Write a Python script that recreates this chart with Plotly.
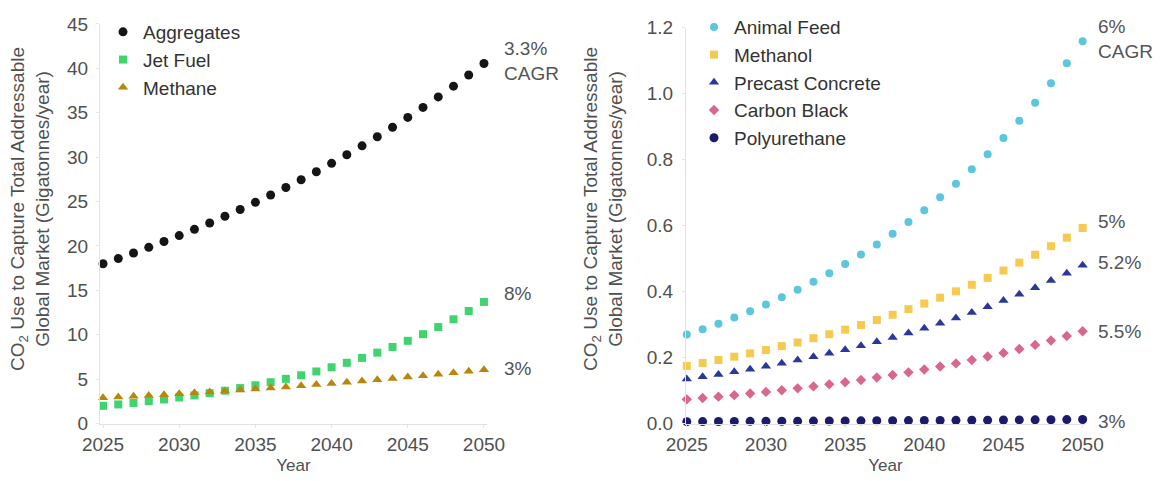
import plotly.graph_objects as go

years = list(range(2025, 2051))

aggregates = [18.00, 18.59, 19.21, 19.84, 20.50, 21.17, 21.87, 22.59, 23.34, 24.11, 24.91, 25.73, 26.58,
              27.46, 28.36, 29.30, 30.27, 31.27, 32.30, 33.36, 34.47, 35.60, 36.78, 37.99, 39.25, 40.54]
jet_fuel = [2.00, 2.16, 2.33, 2.52, 2.72, 2.94, 3.17, 3.43, 3.70, 4.00, 4.32, 4.66, 5.04,
            5.44, 5.87, 6.34, 6.85, 7.40, 7.99, 8.63, 9.32, 10.07, 10.87, 11.74, 12.68, 13.70]
methane = [2.90, 2.99, 3.08, 3.17, 3.26, 3.36, 3.46, 3.57, 3.67, 3.78, 3.90, 4.01, 4.13,
           4.26, 4.39, 4.52, 4.65, 4.79, 4.94, 5.08, 5.24, 5.40, 5.56, 5.72, 5.89, 6.07]

animal_feed = [0.270, 0.286, 0.303, 0.322, 0.341, 0.361, 0.383, 0.406, 0.430, 0.456, 0.484, 0.513, 0.543,
               0.576, 0.611, 0.647, 0.686, 0.727, 0.771, 0.817, 0.866, 0.918, 0.973, 1.032, 1.093, 1.159]
methanol = [0.175, 0.184, 0.193, 0.203, 0.213, 0.223, 0.235, 0.246, 0.259, 0.271, 0.285, 0.299, 0.314,
            0.330, 0.347, 0.364, 0.382, 0.401, 0.421, 0.442, 0.464, 0.488, 0.512, 0.538, 0.564, 0.593]
precast = [0.135, 0.142, 0.149, 0.157, 0.165, 0.174, 0.183, 0.193, 0.203, 0.213, 0.224, 0.236, 0.248,
           0.261, 0.275, 0.289, 0.304, 0.320, 0.337, 0.354, 0.373, 0.392, 0.412, 0.434, 0.456, 0.480]
carbon_black = [0.0735, 0.0775, 0.0818, 0.0863, 0.0911, 0.0961, 0.1013, 0.1069, 0.1128, 0.1190, 0.1255,
                0.1324, 0.1397, 0.1474, 0.1555, 0.1641, 0.1731, 0.1826, 0.1927, 0.2033, 0.2144, 0.2262,
                0.2387, 0.2518, 0.2656, 0.2802]
polyurethane = [0.0060, 0.0062, 0.0064, 0.0066, 0.0068, 0.0070, 0.0072, 0.0074, 0.0076, 0.0078, 0.0081,
                0.0083, 0.0086, 0.0088, 0.0091, 0.0093, 0.0096, 0.0099, 0.0102, 0.0105, 0.0108, 0.0112,
                0.0115, 0.0118, 0.0122, 0.0126]

left_ticks = [0, 5, 10, 15, 20, 25, 30, 35, 40, 45]
right_ticks = [0.0, 0.2, 0.4, 0.6, 0.8, 1.0, 1.2]
x_ticks = [2025, 2030, 2035, 2040, 2045, 2050]

# page body has an 8px margin; figure sized to fit the 1161x481 window
OFF = 8
W, H = 1161 - OFF, 481 - OFF
FONT = "Liberation Sans, Arial, sans-serif"
TXT = "#505050"
FS = 19


def X(p):
    return (p - OFF) / W


def Y(p):
    return 1 - (p - OFF) / H


fig = go.Figure()


def add(x, y, name, color, symbol, size, xa, ya, legend):
    fig.add_trace(go.Scatter(x=x, y=y, name=name, mode="markers", xaxis=xa, yaxis=ya,
                             legend=legend, cliponaxis=False,
                             marker=dict(color=color, symbol=symbol, size=size)))


add(years, aggregates, "Aggregates", "#151515", "circle", 9, "x", "y", "legend")
add(years, jet_fuel, "Jet Fuel", "#3fd46e", "square", 8, "x", "y", "legend")
add(years, methane, "Methane", "#b8860b", "triangle-up", 9, "x", "y", "legend")

add(years, animal_feed, "Animal Feed", "#5cc6dd", "circle", 8, "x2", "y2", "legend2")
add(years, methanol, "Methanol", "#f6c94f", "square", 8, "x2", "y2", "legend2")
add(years, precast, "Precast Concrete", "#2a389b", "triangle-up", 9, "x2", "y2", "legend2")
add(years, carbon_black, "Carbon Black", "#d9668f", "diamond", 8, "x2", "y2", "legend2")
add(years, polyurethane, "Polyurethane", "#1b1a6b", "circle", 9, "x2", "y2", "legend2")

axis_common = dict(showgrid=False, zeroline=False, showline=True, linecolor="#e2e2e2", linewidth=1,
                   ticks="outside", ticklen=3, tickcolor="#e6e6e6",
                   tickfont=dict(size=FS, color=TXT, family=FONT), automargin=False)

fig.update_layout(
    width=W, height=H,
    margin=dict(l=0, r=0, t=0, b=0),
    paper_bgcolor="white", plot_bgcolor="white",
    font=dict(family=FONT, color=TXT),
    xaxis=dict(domain=[X(100), X(487)], range=[2024.8, 2050.2], tickvals=x_ticks,
               ticklabelstandoff=1,
               title=dict(text="Year", font=dict(size=17, color=TXT), standoff=4), **axis_common),
    yaxis=dict(domain=[Y(423), Y(19)], range=[0, 45], tickvals=left_ticks, anchor="x",
               ticklabelstandoff=4, **axis_common),
    xaxis2=dict(domain=[X(686), X(1085)], range=[2024.95, 2050.15], tickvals=x_ticks, anchor="y2",
                ticklabelstandoff=1,
                title=dict(text="Year", font=dict(size=17, color=TXT), standoff=4), **axis_common),
    yaxis2=dict(domain=[Y(423), Y(23)], range=[0, 1.2], tickvals=right_ticks,
                tickformat=".1f", anchor="x2", ticklabelstandoff=5, **axis_common),
    legend=dict(x=X(103), y=Y(8), xanchor="left", yanchor="top", bgcolor="rgba(0,0,0,0)",
                font=dict(size=FS, color="#333333", family=FONT), tracegroupgap=0, itemwidth=30),
    legend2=dict(x=X(694), y=Y(3), xanchor="left", yanchor="top", bgcolor="rgba(0,0,0,0)",
                 font=dict(size=FS, color="#333333", family=FONT), tracegroupgap=0, itemwidth=30),
    showlegend=True,
)

ann_font = dict(size=19, color="#555555", family=FONT)
ytitle = "CO<sub>2</sub> Use to Capture Total Addressable<br>Global Market (Gigatonnes/year)"
annotations = [
    dict(text=ytitle, x=X(30), y=Y(206), textangle=-90, font=dict(size=FS, color=TXT, family=FONT)),
    dict(text=ytitle, x=X(603), y=Y(206), textangle=-90, font=dict(size=FS, color=TXT, family=FONT)),
]
for txt, xp, yp in [("3.3%<br>CAGR", 502, 57), ("8%", 502, 292), ("3%", 502, 367),
                    ("6%<br>CAGR", 1096, 34), ("5%", 1096, 219), ("5.2%", 1096, 260),
                    ("5.5%", 1096, 330), ("3%", 1096, 421)]:
    annotations.append(dict(text=txt, x=X(xp), y=Y(yp), xanchor="left", align="left", font=ann_font))

for a in annotations:
    a.update(xref="paper", yref="paper", showarrow=False)
    a.setdefault("xanchor", "center")
    a["yanchor"] = "middle"
fig.update_layout(annotations=annotations)

fig.write_html("out.html")
